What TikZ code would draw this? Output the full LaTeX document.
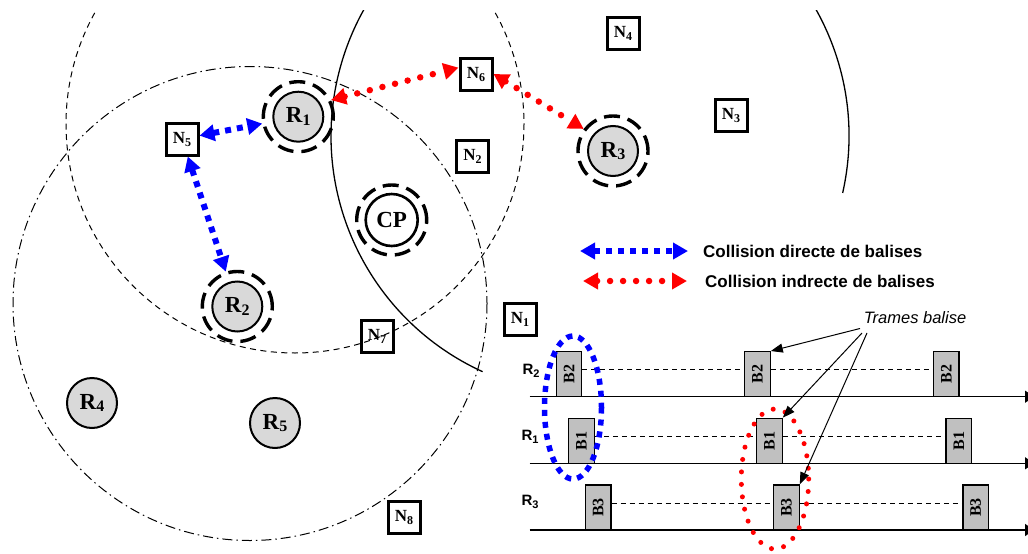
\documentclass[tikz,border=0pt]{standalone}
\usepackage{fontspec}
\setmainfont{Liberation Serif}
\newfontfamily\arialf{Liberation Sans}
\usetikzlibrary{arrows.meta}
\definecolor{rgray}{RGB}{217,217,217}
\definecolor{bgray}{RGB}{192,192,192}
\newcommand\lsub[3]{\raisebox{-#2pt}{\fontsize{#1}{#1}\selectfont #3}}
\begin{document}
\begin{tikzpicture}[x=1pt,y=-1pt,
  rnode/.style={circle, draw, line width=2pt, fill=rgray, minimum size=50pt, inner sep=0pt, font=\fontsize{23}{23}\selectfont\bfseries},
  ringnode/.style={circle, draw, line width=3.4pt, dash pattern=on 16pt off 8pt, minimum size=70pt, inner sep=0pt},
  cpnode/.style={circle, draw, line width=2.6pt, fill=white, minimum size=52pt, inner sep=0pt, font=\fontsize{23}{23}\selectfont\bfseries},
  nbox/.style={rectangle, draw, line width=3pt, fill=white, minimum size=32pt, inner sep=0pt, font=\fontsize{17}{17}\selectfont\bfseries},
  beacon/.style={rectangle, draw, line width=1.3pt, fill=bgray, minimum width=45pt, minimum height=25.5pt, inner sep=0pt, rotate=90, font=\fontsize{16}{16}\selectfont\bfseries},
  bluearr/.style={draw=blue, line width=6pt, dash pattern=on 6pt off 6pt, {Triangle[length=15pt,width=16pt]}-{Triangle[length=15pt,width=16pt]}},
  redarr/.style={draw=red, line width=6.5pt, dash pattern=on 0pt off 13pt, line cap=round, {Triangle[length=15pt,width=16pt]}-{Triangle[length=15pt,width=16pt]}},
  rangedash/.style={line width=1pt, dash pattern=on 6pt off 4.5pt},
  rangedot/.style={line width=1pt, dash pattern=on 10pt off 4pt on 1.5pt off 4pt},
  rangesolid/.style={line width=1.3pt},
  axisline/.style={line width=1.5pt, -{Triangle[length=9pt,width=12pt]}},
  tldash/.style={line width=1pt, dash pattern=on 5pt off 4pt},
  tarr/.style={line width=1pt, -{Triangle[length=12pt,width=9pt]}},
  axlabel/.style={font=\fontsize{15}{15}\selectfont\arialf\bfseries, inner sep=0pt},
  legtext/.style={font=\fontsize{17}{17}\selectfont\arialf\bfseries, anchor=west, inner sep=0pt}
]
\useasboundingbox (0,0) rectangle (1028,554);
\fill[white] (0,0) rectangle (1028,554);

% ranges (clipped at the top)
\begin{scope}
\clip (0,10) rectangle (1028,554);
\draw[rangedot] (250,303.5) circle[radius=237];
\draw[rangesolid] (590,136) ++(12.7:259) arc[start angle=12.7, end angle=-245.5, radius=259];
\end{scope}

% stations
\node[ringnode] (r1o) at (298.3,116.7) {};
\node[rnode] (r1) at (298.3,116.7) {R\lsub{16}{2.5}{1}};
\node[ringnode] (r2o) at (237.3,306.5) {};
\node[rnode] (r2) at (237.3,306.5) {R\lsub{16}{2.5}{2}};
\node[ringnode] (r3o) at (613,151) {};
\node[rnode] (r3) at (613,151) {R\lsub{16}{2.5}{3}};
\node[rnode] (r4) at (92,403) {R\lsub{16}{2.5}{4}};
\node[rnode] (r5) at (275,423) {R\lsub{16}{2.5}{5}};
\node[ringnode] (cpo) at (391.7,220) {};
\node[cpnode] (cp) at (391.7,220) {CP};

\node[nbox] (n1) at (520,319) {N\lsub{12}{3}{1}};
\node[nbox] (n2) at (472.5,156) {N\lsub{12}{3}{2}};
\node[nbox] (n3) at (731,115) {N\lsub{12}{3}{3}};
\node[nbox] (n4) at (623,33) {N\lsub{12}{3}{4}};
\node[nbox] (n5) at (182,139) {N\lsub{12}{3}{5}};
\node[nbox] (n6) at (476,74) {N\lsub{12}{3}{6}};
\node[nbox] (n7) at (377,336) {N\lsub{12}{3}{7}};
\node[nbox] (n8) at (404,517) {N\lsub{12}{3}{8}};

% R1 range drawn over N7
\begin{scope}
\clip (0,10) rectangle (1028,554);
\draw[rangedash] (295,124) circle[radius=229];
\end{scope}

% collisions
\draw[bluearr] (n5) -- (r1o);
\draw[bluearr] (n5) -- (r2o);
\draw[redarr] (r1o.27) -- (n6.160);
\draw[redarr] (n6.east) -- (r3o.143);

% legend
\coordinate (lb1) at (580,251);
\coordinate (lb2) at (688,251);
\draw[bluearr] (lb1) -- (lb2);
\node[legtext] (lbt) at (703,251) {Collision directe de balises};
\coordinate (lr1) at (583,281);
\coordinate (lr2) at (687,281);
\draw[redarr] (lr1) -- (lr2);
\node[legtext] (lrt) at (705,281) {Collision indrecte de balises};

% timelines
\node[axlabel] (l2) at (531,371) {R\lsub{11}{3}{2}};
\node[axlabel] (l1) at (530,437) {R\lsub{11}{3}{1}};
\node[axlabel] (l3) at (530,502) {R\lsub{11}{3}{3}};

\node[beacon] (b21) at (569,374.2) {B2};
\node[beacon] (b22) at (757.4,374.2) {B2};
\node[beacon] (b23) at (946.3,374.2) {B2};
\node[beacon] (b11) at (581.4,440.8) {B1};
\node[beacon] (b12) at (769.4,440.8) {B1};
\node[beacon] (b13) at (958.8,440.8) {B1};
\node[beacon] (b31) at (598.2,507.5) {B3};
\node[beacon] (b32) at (786.4,507.5) {B3};
\node[beacon] (b33) at (975.6,507.5) {B3};

\draw[tldash] ([yshift=4.5pt]b21.south) -- ([yshift=4.5pt]b22.north);
\draw[tldash] ([yshift=4.5pt]b22.south) -- ([yshift=4.5pt]b23.north);
\draw[tldash] ([yshift=4.5pt]b11.south) -- ([yshift=4.5pt]b12.north);
\draw[tldash] ([yshift=4.5pt]b12.south) -- ([yshift=4.5pt]b13.north);
\draw[tldash] ([yshift=4.5pt]b31.south) -- ([yshift=4.5pt]b32.north);
\draw[tldash] ([yshift=4.5pt]b32.south) -- ([yshift=4.5pt]b33.north);

\begin{scope}
\clip (0,0) rectangle (1028,554);
\coordinate (a2s) at (529.6,396.7);
\coordinate (a2e) at (1034,396.7);
\coordinate (a1s) at (529.6,463.3);
\coordinate (a1e) at (1034,463.3);
\coordinate (a3s) at (529.6,530);
\coordinate (a3e) at (1034,530);
\draw[axisline] (a2s) -- (a2e);
\draw[axisline] (a1s) -- (a1e);
\draw[axisline] (a3s) -- (a3e);
\end{scope}

\draw[blue, line width=5.5pt, dash pattern=on 6pt off 6pt] (573,407.5) ellipse [x radius=28.5, y radius=71.5];
\draw[red, line width=5pt, dash pattern=on 0pt off 12.5pt, line cap=round] (775,479) ellipse [x radius=33.7, y radius=70];

\node[font=\fontsize{16.5}{16.5}\selectfont\arialf\itshape, inner sep=0pt] (tb) at (915,318) {Trames balise};
\coordinate (t1) at (860,328.5);
\coordinate (t2) at (862,333);
\coordinate (t3) at (867,333);
\draw[tarr] (t1) -- (b22.south east);
\draw[tarr] (t2) -- (b12.south east);
\draw[tarr] (t3) -- (b32.south east);
\end{tikzpicture}
\end{document}
